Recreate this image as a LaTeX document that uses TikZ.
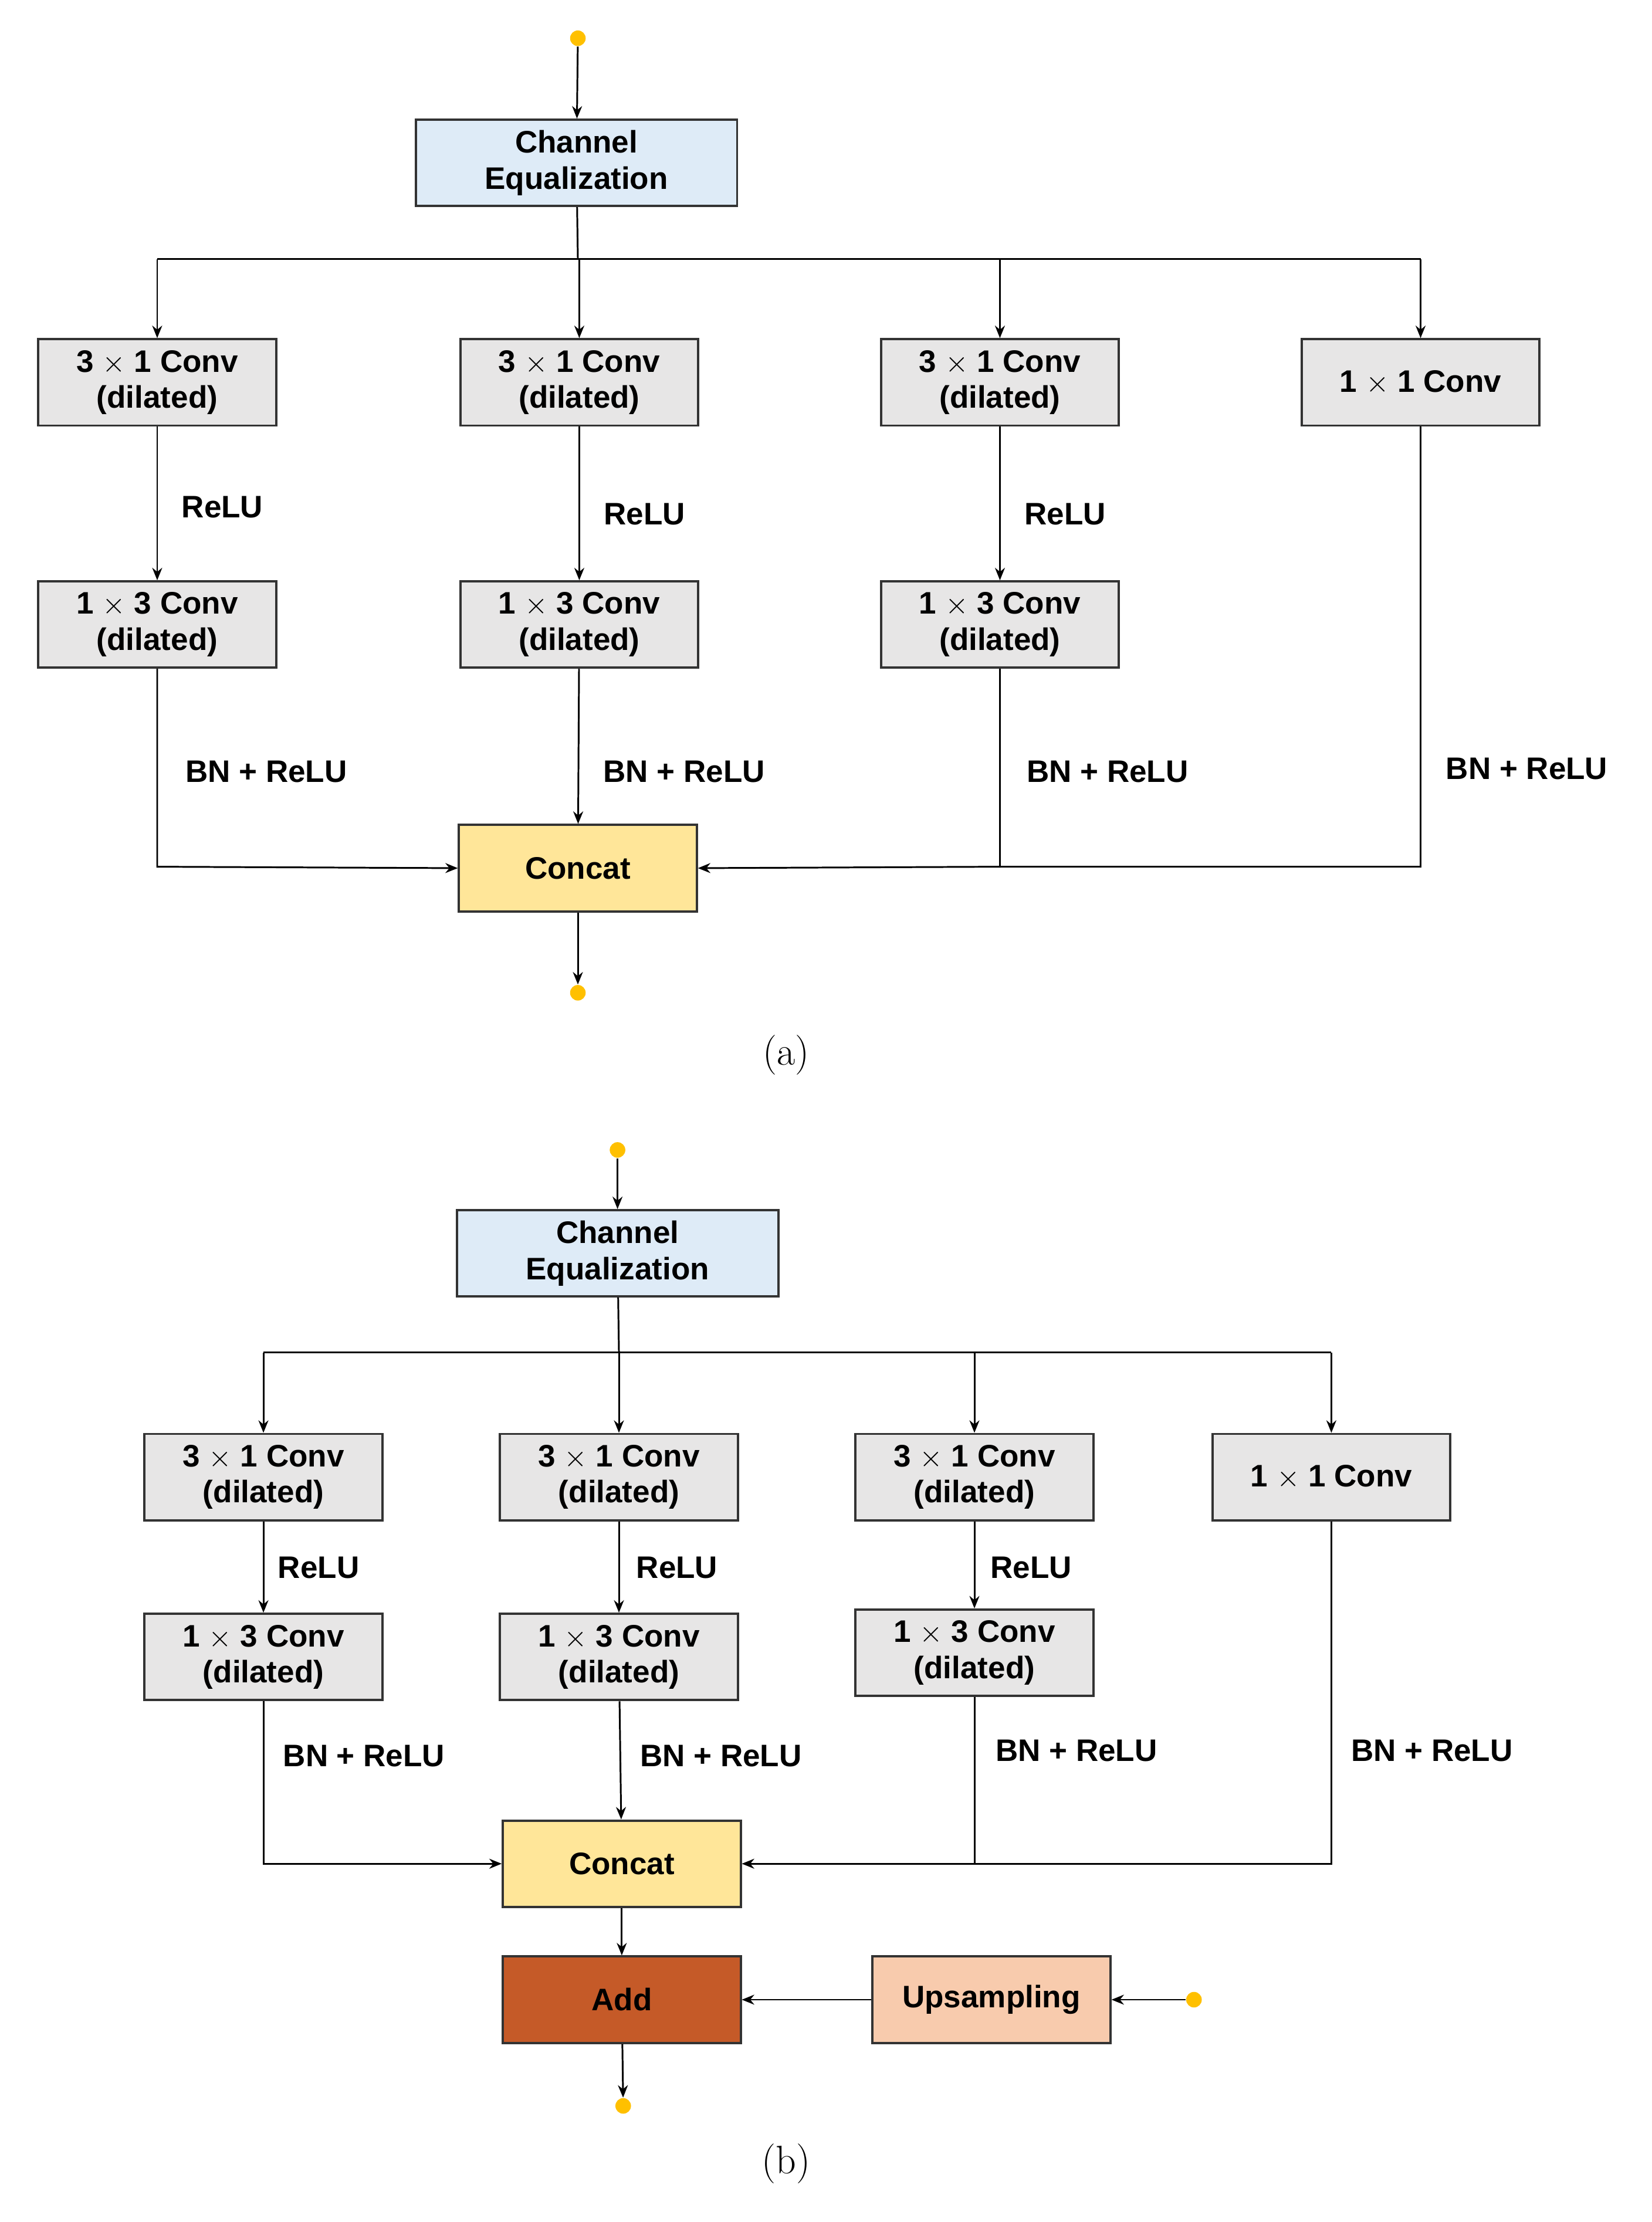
\documentclass[tikz,border=0pt]{standalone}
\usepackage{fontspec}
\setmainfont{Liberation Sans}
\newfontfamily\lmserif{Latin Modern Roman}
\usetikzlibrary{arrows.meta}
\definecolor{ceq}{HTML}{DEEBF7}
\definecolor{conv}{HTML}{E7E6E6}
\definecolor{cat}{HTML}{FFE699}
\definecolor{addc}{HTML}{C55A28}
\definecolor{ups}{HTML}{F8CBAD}
\definecolor{dotc}{HTML}{FFC000}
\begin{document}
\begin{tikzpicture}[x=0.02cm,y=-0.02cm,
 box/.style={draw=black!80,line width=0.9pt,minimum width=3.36cm,minimum height=1.22cm,align=center,inner sep=1pt,font=\fontsize{12.5}{14.5}\selectfont\bfseries},
 conv/.style={box,fill=conv},
 lab/.style={font=\fontsize{12.5}{14.5}\selectfont\bfseries},
 dot/.style={circle,fill=dotc,inner sep=0pt,minimum size=0.22cm},
 ar/.style={-{Stealth[length=5pt,width=4pt]},line width=0.7pt},
 ln/.style={line width=0.7pt},
 sublab/.style={font=\lmserif\fontsize{16}{18}\selectfont}]
\useasboundingbox (0,0) rectangle (1166,1569);
% (a)
\node[dot] (ai) at (408,27) {};
\node[box,fill=ceq,minimum width=4.54cm] (ace) at (407,115) {Channel\\Equalization};
\coordinate (aj) at (408,183);
\foreach \n/\x in {1/111,2/409,3/706}{
 \node[conv] (ar\n) at (\x,270) {3 $\times$ 1 Conv\\(dilated)};
 \node[conv] (as\n) at (\x,441) {1 $\times$ 3 Conv\\(dilated)};
 \coordinate (at\n) at (\x,183);
 \draw[ar] (ar\n) -- (as\n);
}
\node[conv] (ar4) at (1003,270) {1 $\times$ 1 Conv};
\coordinate (at4) at (1003,183);
\node[box,fill=cat] (ac) at (408,613) {Concat};
\node[dot] (ao) at (408,701) {};
\draw[ar] (ai) -- (ace);
\draw[ln] (ace) -- (aj);
\draw[ln] (at1) -- (at4);
\foreach \n in {1,2,3,4} \draw[ar] (at\n) -- (ar\n);
\coordinate (ak1) at (111,612); \coordinate (ak3) at (706,612); \coordinate (ak4) at (1003,612);
\draw[ar] (as1) -- (ak1) -- (ac.west);
\draw[ar] (as2) -- (ac);
\draw[ar] (as3) -- (ak3) -- (ac.east);
\draw[ln] (ar4) -- (ak4) -- (ak3);
\draw[ar] (ac) -- (ao);
\node[lab] at (157,358) {ReLU};
\node[lab] at (455,363) {ReLU};
\node[lab] at (752,363) {ReLU};
\node[lab] at (188,545) {BN + ReLU};
\node[lab] at (483,545) {BN + ReLU};
\node[lab] at (782,545) {BN + ReLU};
\node[lab] at (1078,543) {BN + ReLU};
\node[sublab] at (555,745) {(a)};
% (b)
\node[dot] (bi) at (436,812) {};
\node[box,fill=ceq,minimum width=4.54cm] (bce) at (436,885) {Channel\\Equalization};
\coordinate (bj) at (437,955);
\foreach \n/\x/\y in {1/186/1170,2/437/1170,3/688/1167}{
 \node[conv] (br\n) at (\x,1043) {3 $\times$ 1 Conv\\(dilated)};
 \node[conv] (bs\n) at (\x,\y) {1 $\times$ 3 Conv\\(dilated)};
 \coordinate (bt\n) at (\x,955);
 \draw[ar] (br\n) -- (bs\n);
}
\node[conv] (br4) at (940,1043) {1 $\times$ 1 Conv};
\coordinate (bt4) at (940,955);
\node[box,fill=cat] (bc) at (439,1316) {Concat};
\node[box,fill=addc] (badd) at (439,1412) {Add};
\node[box,fill=ups] (bup) at (700,1412) {Upsampling};
\node[dot] (bud) at (843,1412) {};
\node[dot] (bo) at (440,1487) {};
\draw[ar] (bi) -- (bce);
\draw[ln] (bce) -- (bj);
\draw[ln] (bt1) -- (bt4);
\foreach \n in {1,2,3,4} \draw[ar] (bt\n) -- (br\n);
\coordinate (bk1) at (186,1316); \coordinate (bk3) at (688,1316); \coordinate (bk4) at (940,1316);
\draw[ar] (bs1) -- (bk1) -- (bc.west);
\draw[ar] (bs2) -- (bc);
\draw[ar] (bs3) -- (bk3) -- (bc.east);
\draw[ln] (br4) -- (bk4) -- (bk3);
\draw[ar] (bc) -- (badd);
\draw[ar] (bud) -- (bup);
\draw[ar] (bup) -- (badd);
\draw[ar] (badd) -- (bo);
\node[lab] at (225,1107) {ReLU};
\node[lab] at (478,1107) {ReLU};
\node[lab] at (728,1107) {ReLU};
\node[lab] at (257,1240) {BN + ReLU};
\node[lab] at (509,1240) {BN + ReLU};
\node[lab] at (760,1236) {BN + ReLU};
\node[lab] at (1011,1236) {BN + ReLU};
\node[sublab] at (555,1528) {(b)};
\end{tikzpicture}
\end{document}
